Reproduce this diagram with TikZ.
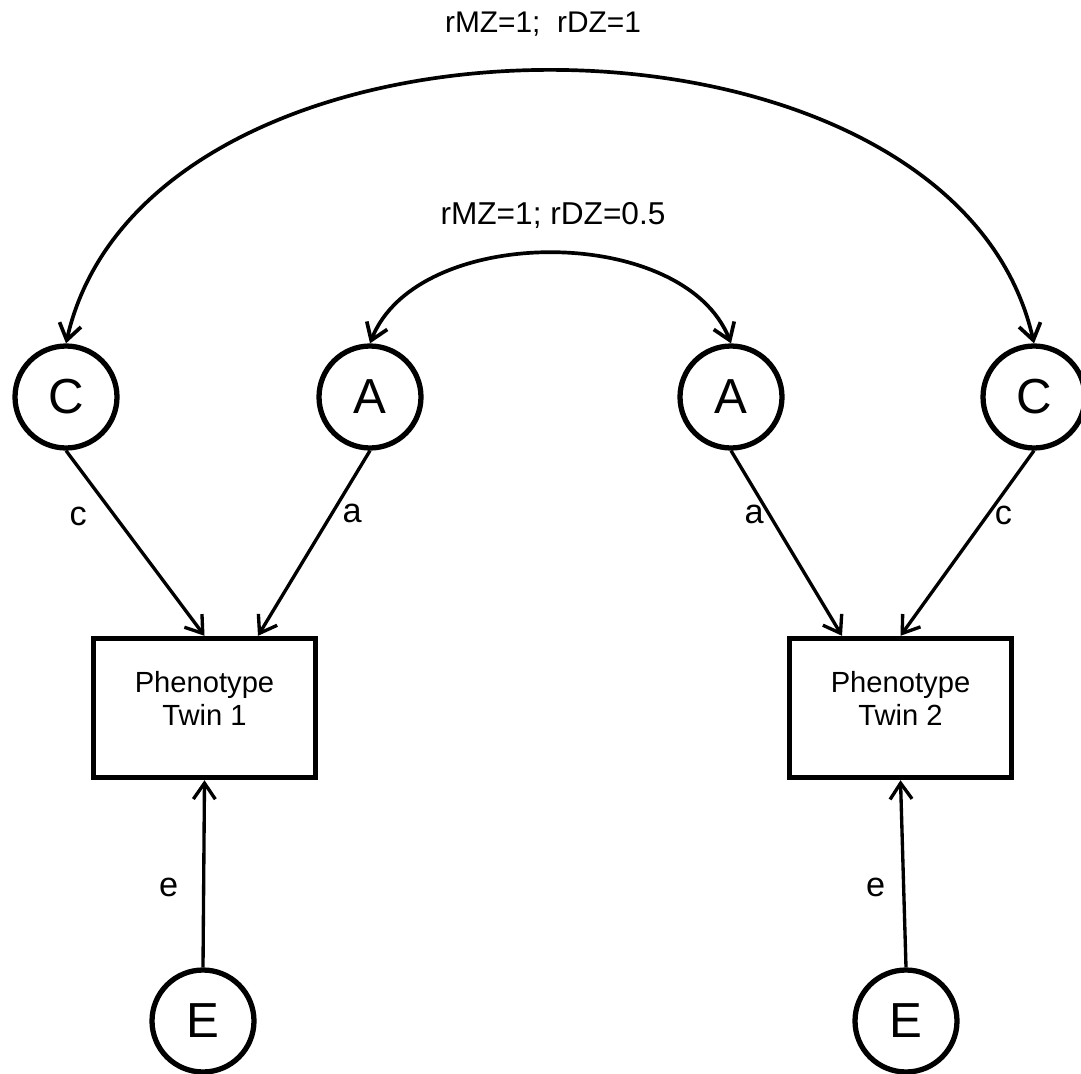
\documentclass[tikz,border=0pt]{standalone}
\usepackage{fontspec}
\setmainfont{Liberation Sans}
\usetikzlibrary{arrows.meta}

\begin{document}
\begin{tikzpicture}[x=0.02cm, y=-0.02cm,
    latent/.style={circle, draw, line width=3pt, minimum size=2.04cm, inner sep=0pt, font=\fontsize{28}{30}\selectfont},
    pheno/.style={rectangle, draw, line width=3.1pt, minimum width=4.44cm, minimum height=2.78cm},
    phenotext/.style={align=center, font=\fontsize{16.6}{18.8}\selectfont},
    coef/.style={font=\fontsize{19.5}{22}\selectfont},
    arrowline/.style={-{Straight Barb[length=0.32cm, width=0.44cm]}, line width=1.9pt},
    twoway/.style={{Straight Barb[length=0.32cm, width=0.44cm]}-{Straight Barb[length=0.32cm, width=0.44cm]}, line width=2.1pt}]
  \useasboundingbox (0,0) rectangle (1081,1074);

  % latent factors
  \node[latent] (cL) at (66,397) {C};
  \node[latent] (aL) at (370,397) {A};
  \node[latent] (aR) at (731,397) {A};
  \node[latent] (cR) at (1034,397) {C};
  \node[latent] (eL) at (203,1021) {E};
  \node[latent] (eR) at (906,1021) {E};

  % observed phenotypes
  \node[pheno] (p1) at (204.5,708) {};
  \node[pheno] (p2) at (900.5,708) {};
  \node[phenotext] (t1) at (p1) [yshift=0.19cm] {Phenotype\\Twin 1};
  \node[phenotext] (t2) at (p2) [yshift=0.19cm] {Phenotype\\Twin 2};

  % paths
  \draw[arrowline] (cL.south) -- node[coef, pos=0.355, xshift=-0.74cm] {c} (p1.north);
  \draw[arrowline] (aL.south) -- node[coef, pos=0.337, xshift=0.4cm] {a} ([xshift=1.07cm]p1.north);
  \draw[arrowline] (aR.south) -- node[coef, pos=0.343, xshift=-0.3cm] {a} ([xshift=-1.17cm]p2.north);
  \draw[arrowline] (cR.south) -- node[coef, pos=0.348, xshift=0.32cm] {c} (p2.north);
  \draw[arrowline] (eL.north) -- node[coef, pos=0.425, xshift=-0.7cm] {e} (p1.south);
  \draw[arrowline] (eR.north) -- node[coef, pos=0.425, xshift=-0.56cm] {e} (p2.south);

  % correlations
  \draw[twoway] (cL.north) .. controls +(82,-363) and +(-82,-363) .. node[font=\fontsize{17}{20}\selectfont, pos=0.5, xshift=-0.14cm, yshift=0.94cm] {rMZ=1;\ \ rDZ=1} (cR.north);
  \draw[twoway] (aL.north) .. controls +(47,-120) and +(-47,-120) .. node[font=\fontsize{18}{20}\selectfont, pos=0.5, xshift=0.05cm, yshift=0.76cm] {rMZ=1; rDZ=0.5} (aR.north);

\end{tikzpicture}
\end{document}
